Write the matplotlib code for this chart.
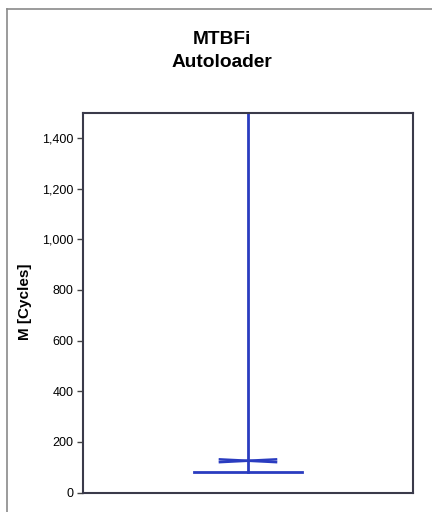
import matplotlib
matplotlib.use("Agg")
import matplotlib.pyplot as plt
from matplotlib.lines import Line2D
from matplotlib.ticker import FuncFormatter

# values
category = ["Autoloader"]
lower_bound = [80]        # wide horizontal bar
upper_bound = [1600]      # runs off the top of the axes
estimate_low = [120]      # the two crossed strokes of the point estimate
estimate_high = [131]
y_ticks = [0, 200, 400, 600, 800, 1000, 1200, 1400]

blue = "#2a3cc0"

fig = plt.figure(figsize=(4.32, 5.12), dpi=100)
ax = fig.add_axes([0.192, 0.038, 0.764, 0.742])

# outer chart frame (only the top and left edges are visible in the picture)
fig.add_artist(Line2D([0.016, 1.0], [0.982, 0.982], transform=fig.transFigure,
                      color="#8a8a8a", lw=1.2))
fig.add_artist(Line2D([0.016, 0.016], [0.0, 0.982], transform=fig.transFigure,
                      color="#8a8a8a", lw=1.2))

for i, name in enumerate(category):
    ax.plot([i, i], [lower_bound[i], upper_bound[i]], color=blue, lw=2)
    ax.plot([i - 0.33, i + 0.33], [lower_bound[i], lower_bound[i]], color=blue, lw=2)
    ax.plot([i - 0.17, i + 0.17], [estimate_high[i], estimate_low[i]], color=blue, lw=1.8)
    ax.plot([i - 0.17, i + 0.17], [estimate_low[i], estimate_high[i]], color=blue, lw=1.8)

ax.set_xlim(-1, 1)
ax.set_ylim(0, 1500)
ax.set_xticks([])
ax.set_yticks(y_ticks)
ax.yaxis.set_major_formatter(FuncFormatter(lambda v, p: f"{int(v):,}"))
ax.tick_params(axis="y", direction="out", length=4, width=1, color="#444444",
               labelsize=9, pad=3)
for s in ax.spines.values():
    s.set_color("#3a3a4a")
    s.set_linewidth(1.5)

fig.text(0.058, 0.41, "M [Cycles]", rotation=90, ha="center", va="center",
         fontsize=11, fontweight="bold", family="Liberation Sans")
fig.text(0.514, 0.922, "MTBFi", ha="center", va="center", fontsize=13.8,
         fontweight="bold", family="Liberation Sans")
fig.text(0.514, 0.877, "Autoloader", ha="center", va="center", fontsize=13.8,
         fontweight="bold", family="Liberation Sans")
for lbl in ax.get_yticklabels():
    lbl.set_family("Liberation Sans")

fig.savefig("out.png", dpi=100, facecolor="white")
